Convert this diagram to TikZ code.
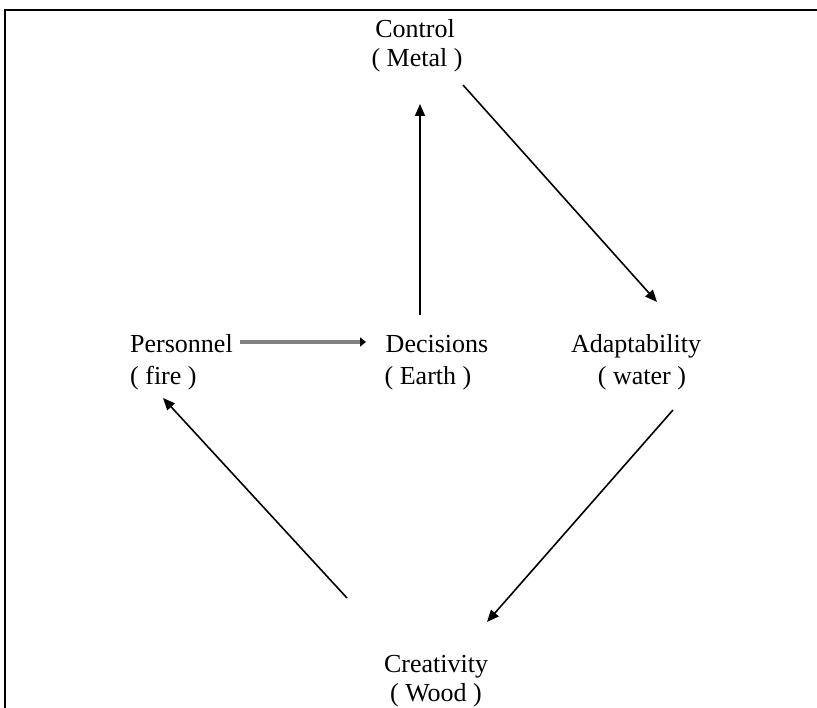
\documentclass[tikz,border=0pt]{standalone}
\usepackage{fontspec}
\setmainfont{Liberation Serif}
\usetikzlibrary{arrows.meta}
\begin{document}
\begin{tikzpicture}[x=1pt,y=-1pt,
  lbl/.style={inner sep=0pt,font=\fontsize{26}{30}\selectfont},
  arr/.style={line width=1.6pt,-{Triangle[length=12pt,width=10pt]}},
  grayarr/.style={line width=4pt,draw={rgb,255:red,128;green,128;blue,128},-{Triangle[length=6pt,width=9pt,color=black]}},
  frame/.style={line width=2pt}]
\useasboundingbox (0,0) rectangle (817,708);
% frame
\coordinate (f1) at (5,708);
\coordinate (f2) at (5,10);
\coordinate (f3) at (817,10);
\draw[frame] (f1) -- (f2) -- (f3);
% labels
\node[lbl,anchor=base] (ctrl) at (415,38) {Control};
\node[lbl,anchor=base] (ctrlb) at (417,67) {( Metal )};
\node[lbl,anchor=base] (dec) at (437,353) {Decisions};
\node[lbl,anchor=base] (decb) at (428,385) {( Earth )};
\node[lbl,anchor=base west] (per) at (130,353) {Personnel};
\node[lbl,anchor=base west] (perb) at (130,385) {( fire )};
\node[lbl,anchor=base] (ada) at (636,353) {Adaptability};
\node[lbl,anchor=base] (adab) at (642,385) {( water )};
\node[lbl,anchor=base] (cre) at (436,672) {Creativity};
\node[lbl,anchor=base] (creb) at (436,701) {( Wood )};
% arrow end points
\coordinate (d1) at (420,315);
\coordinate (c1) at (420,104);
\coordinate (c2) at (463,85);
\coordinate (a1) at (657,302);
\coordinate (a2) at (673,410);
\coordinate (w1) at (487,622);
\coordinate (w2) at (347,598);
\coordinate (p1) at (163,398);
\coordinate (p2) at (240,342);
\coordinate (d2) at (366,342);
% connectors
\draw[arr] (d1) -- (c1);
\draw[arr] (c2) -- (a1);
\draw[arr] (a2) -- (w1);
\draw[arr] (w2) -- (p1);
\draw[grayarr] (p2) -- (d2);
\end{tikzpicture}
\end{document}
